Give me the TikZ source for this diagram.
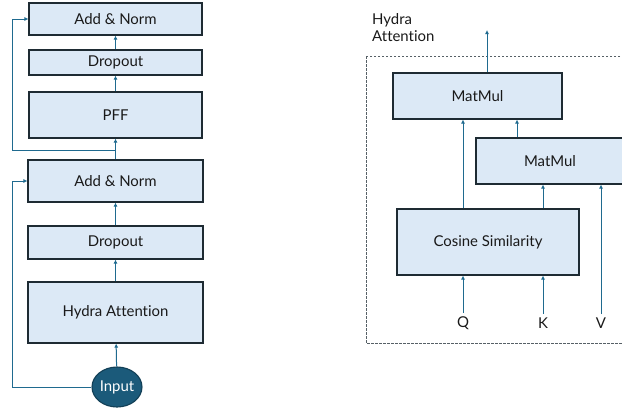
\documentclass[tikz,border=0pt]{standalone}
\usepackage{fontspec}
\setmainfont{Lato}[RawFeature = {-liga}]
\usetikzlibrary{arrows.meta}
\usetikzlibrary{positioning}
\usetikzlibrary{shapes.geometric}
\definecolor{boxfill}{HTML}{DCE9F6}
\definecolor{boxline}{HTML}{1E2B33}
\definecolor{arrline}{HTML}{1F6A8F}
\definecolor{infill}{HTML}{1B5A7A}
\definecolor{inline}{HTML}{123F56}
\tikzset{blk/.style = {draw = boxline, fill = boxfill, line width = 1.1bp, minimum width = #1, inner sep = 0}}
\tikzset{arr/.style = {draw = arrline, line width = 1bp, -{Latex[length = 4bp, width = 4bp]}}}
\tikzset{lbl/.style = {font = \fontsize{15}{17}\selectfont, text = black!90}}

\begin{document}
\begin{tikzpicture}[x = 1bp, y = -1bp]
      \useasboundingbox (0, 0) rectangle (622, 410);
      \clip (0, 0) rectangle (622, 410);

      % encoder block
      \node [blk = 173bp, minimum height = 32bp, lbl] (an2) at (115.5, 19) {Add \& Norm};
      \node [blk = 173bp, minimum height = 25bp, lbl] (dr2) at (115.5, 62.5) {Dropout};
      \node [blk = 173bp, minimum height = 46bp, lbl] (pff) at (115.5, 115) {PFF};
      \node [blk = 175bp, minimum height = 42bp, lbl] (an1) at (115.5, 181) {Add \& Norm};
      \node [blk = 175bp, minimum height = 33bp, lbl] (dr1) at (115.5, 242.5) {Dropout};
      \node [blk = 175bp, minimum height = 61bp, lbl] (hyd) at (115.5, 312.5) {Hydra Attention};
      \node [ellipse, draw = inline, fill = infill, line width = 1.1bp, minimum width = 50bp, minimum height = 40bp, inner sep = 0, lbl, text = white] (in) at (117, 387) {Input};

      \draw [arr] (in) -- (hyd);
      \draw [arr] (hyd) -- (dr1);
      \draw [arr] (dr1) -- (an1);
      \draw [arr] (an1) -- (pff);
      \draw [arr] (pff) -- (dr2);
      \draw [arr] (dr2) -- (an2);

      \coordinate (lp) at (12, 0);
      \coordinate (br) at (115.5, 150);
      \draw [arr] (in.west) -- (in.west -| lp) |- (an1.west);
      \draw [arr] (br) -- (br -| lp) |- (an2.west);

      % hydra attention
      \draw [dash pattern = on 2.5bp off 1.5bp, line width = 0.9bp, draw = boxline!75] (366, 56) rectangle (640, 343);
      \node [lbl, anchor = north west, align = left, inner sep = 0] (ttl) at (372, 13) {Hydra\\Attention};

      \node [blk = 169bp, minimum height = 46bp, lbl] (mm1) at (477.5, 96) {MatMul};
      \node [blk = 148bp, minimum height = 46bp, lbl] (mm2) at (550, 161) {MatMul};
      \node [blk = 182bp, minimum height = 66bp, lbl] (cos) at (488, 242) {Cosine Similarity};

      \node [lbl] (q) at (463, 323) {Q};
      \node [lbl] (k) at (543, 323) {K};
      \node [lbl] (v) at (601, 323) {V};

      \coordinate (out) at (487, 30);
      \coordinate (mid) at (517, 0);

      \draw [arr] (q) -- (q |- cos.south);
      \draw [arr] (k) -- (k |- cos.south);
      \draw [arr] (v) -- (v |- mm2.south);
      \draw [arr] (q |- cos.north) -- (q |- mm1.south);
      \draw [arr] (k |- cos.north) -- (k |- mm2.south);
      \draw [arr] (mid |- mm2.north) -- (mid |- mm1.south);
      \draw [arr] (out |- mm1.north) -- (out);
    \end{tikzpicture}
\end{document}
